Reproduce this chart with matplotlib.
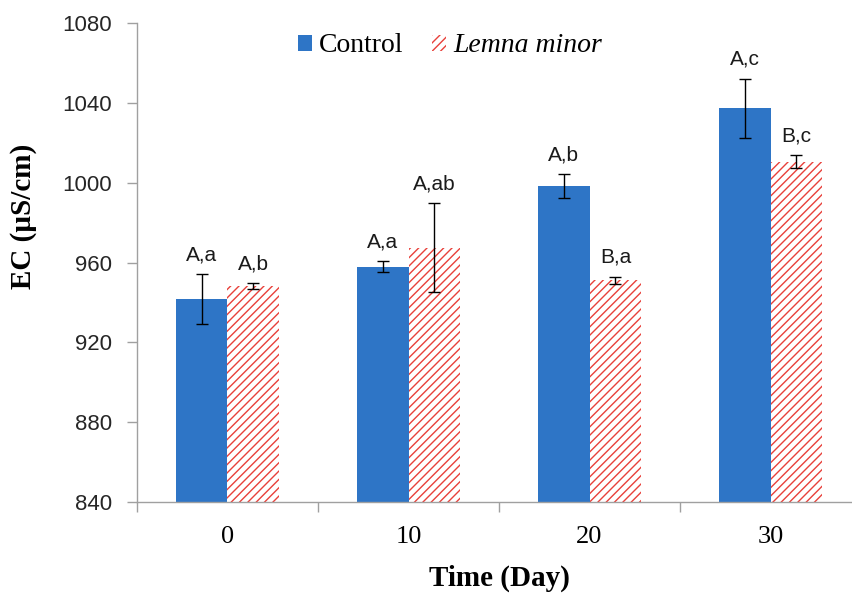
import matplotlib
matplotlib.use('Agg')
import matplotlib.pyplot as plt
import numpy as np

# ---- data ----
days = ['0', '10', '20', '30']
control = [941.8, 958.0, 998.3, 1037.3]
control_err = [12.5, 2.7, 6.0, 15.0]
lemna = [948.2, 967.5, 951.2, 1010.6]
lemna_err = [1.5, 22.3, 1.8, 3.2]
control_letters = ['A,a', 'A,a', 'A,b', 'A,c']
lemna_letters = ['A,b', 'A,ab', 'B,a', 'B,c']

plt.rcParams['hatch.linewidth'] = 1.0

blue = '#2e75c6'
red = '#e8403a'
grey = '#a0a0a0'
serif = 'Liberation Serif'
sans = 'Liberation Sans'

fig = plt.figure(figsize=(8.53, 5.95), dpi=100)
ax = fig.add_axes([137 / 853, 93 / 595, 724 / 853, 478.7 / 595])

x = np.arange(len(days))
w = 0.287

b1 = ax.bar(x - w / 2, control, w, color=blue, linewidth=0, label='Control')
b2 = ax.bar(x + w / 2, lemna, w, color='white', edgecolor=red, linewidth=0,
            hatch='////', label='Lemna minor')

ax.errorbar(x - w / 2, control, yerr=control_err, fmt='none', ecolor='black',
            elinewidth=1.0, capsize=4.5, capthick=1.0)
ax.errorbar(x + w / 2, lemna, yerr=lemna_err, fmt='none', ecolor='black',
            elinewidth=1.0, capsize=4.5, capthick=1.0)

# significance letters above the error bars
for i in range(len(days)):
    ax.annotate(control_letters[i], (x[i] - w / 2, control[i] + control_err[i]),
                xytext=(0, 10), textcoords='offset points', ha='center', va='baseline',
                fontsize=15, family=sans, color='#1a1a1a')
    ax.annotate(lemna_letters[i], (x[i] + w / 2, lemna[i] + lemna_err[i]),
                xytext=(0, 10), textcoords='offset points', ha='center', va='baseline',
                fontsize=15, family=sans, color='#1a1a1a')

ax.set_xlim(-0.5, 3.5)
ax.set_ylim(840, 1080)
ax.set_yticks(np.arange(840, 1081, 40))
ax.set_xticks(x)
ax.set_xticklabels(days, family=serif, fontsize=19)
ax.set_xticks(np.arange(-0.5, 3.6, 1.0), minor=True)
ax.tick_params(axis='x', which='major', length=0, pad=17)
ax.tick_params(axis='x', which='minor', length=7, width=1.0, color=grey)
ax.tick_params(axis='y', length=7, width=1.0, color=grey, pad=11,
               labelsize=16, labelcolor='#262626')
for lab in ax.get_yticklabels():
    lab.set_family(sans)

for s in ['top', 'right']:
    ax.spines[s].set_visible(False)
for s in ['left', 'bottom']:
    ax.spines[s].set_color(grey)
    ax.spines[s].set_linewidth(1.0)

leg = ax.legend(loc='center', bbox_to_anchor=(450 / 853, 1 - 46 / 595),
                bbox_transform=fig.transFigure, ncol=2, frameon=False,
                prop={'family': serif, 'size': 20}, handlelength=0.5,
                handleheight=0.5, handletextpad=0.25, columnspacing=1.05)
leg.get_texts()[1].set_style('italic')

fig.text(24 / 853, 1 - 216 / 595, 'EC (µS/cm)', rotation=90, ha='center', va='center',
         family=serif, fontsize=21, fontweight='bold')
fig.text(499 / 853, 1 - 578 / 595, 'Time (Day)', ha='center', va='center',
         family=serif, fontsize=21, fontweight='bold')

fig.savefig('out.png', dpi=100)
